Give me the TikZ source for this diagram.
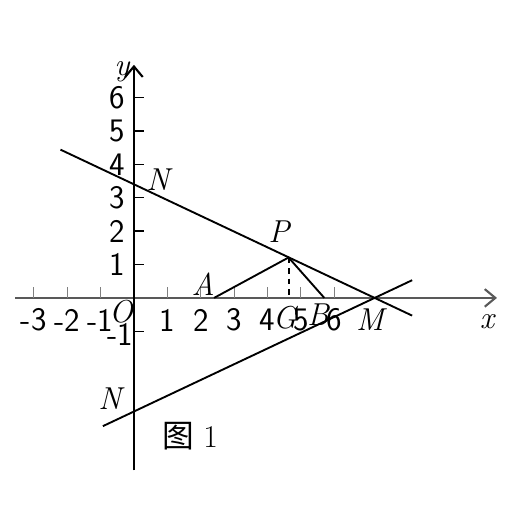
\documentclass[tikz,border=0pt]{standalone}
\usepackage{fontspec}
\newfontfamily\cjkfont{Noto Sans CJK SC}
\usepackage{tikz}
\usetikzlibrary{arrows.meta}
\tikzset{
  axisline/.style={line width=1.8pt, -{Straight Barb[length=9pt,width=15pt]}},
  tickmark/.style={line width=0.8pt, color=gray},
  numlbl/.style={font=\fontsize{28}{30}\selectfont\sffamily, inner sep=0pt},
  ptlbl/.style={font=\fontsize{27}{30}\selectfont\itshape, inner sep=0pt},
  seg/.style={line width=1.6pt},
}
\begin{document}
\begin{tikzpicture}
  \useasboundingbox (-4.01,-6.41) rectangle (11.32,8.92);

  % axes
  \coordinate (xs) at (-3.55,0);
  \coordinate (xe) at (10.87,0);
  \coordinate (ys) at (0,-5.16);
  \coordinate (ye) at (0,6.98);
  \draw[axisline, color=black!65] (xs) -- (xe);
  \draw[axisline] (ys) -- (ye);

  % ticks and numbers
  \foreach \i in {-3,-2,-1,1,2,3,4,5,6} {
    \draw[tickmark] (\i,0) -- (\i,0.32);
  }
  \foreach \i in {-3,-2,-1,1,2,3,4,5,6} {
    \node[numlbl] (xn\i) at (\i,-0.66) {\i};
  }
  \foreach \j in {1,...,6} {
    \draw[line width=1.2pt] (0,\j) -- (0.3,\j);
    \node[numlbl] (yn\j) at (-0.5,\j) {\j};
  }
  \draw[line width=1.2pt] (0,-1) -- (0.3,-1);
  \node[numlbl] (ynm) at (-0.42,-1.1) {-1};

  % points
  \coordinate (O) at (0,0);
  \coordinate (Nt) at (0,3.4);
  \coordinate (Nb) at (0,-3.4);
  \coordinate (M) at (7.2,0);
  \coordinate (P) at (4.63,1.21);
  \coordinate (G) at (4.63,0);
  \coordinate (A) at (2.4,0);
  \coordinate (B) at (5.7,0);
  \coordinate (t1) at (-2.2,4.44);
  \coordinate (t2) at (8.33,-0.53);
  \coordinate (b1) at (-0.93,-3.84);
  \coordinate (b2) at (8.33,0.53);

  % lines
  \draw[seg] (t1) -- (t2);
  \draw[seg] (b1) -- (b2);
  \draw[seg] (A) -- (P) -- (B);
  \draw[seg, dash pattern=on 5pt off 4pt] (P) -- (G);

  % labels
  \node[ptlbl] (ly) at (-0.36,6.77) {y};
  \node[ptlbl] (lx) at (10.57,-0.72) {x};
  \node[ptlbl] (lNt) at (0.72,3.53) {N};
  \node[ptlbl] (lNb) at (-0.72,-3.02) {N};
  \node[ptlbl] (lP) at (4.34,1.98) {P};
  \node[ptlbl] (lA) at (2.07,0.42) {A};
  \node[ptlbl] (lG) at (4.52,-0.6) {G};
  \node[ptlbl] (lB) at (5.51,-0.51) {B};
  \node[ptlbl] (lM) at (7.07,-0.66) {M};
  \node[ptlbl] (lO) at (-0.39,-0.42) {O};
  \node[font=\fontsize{27}{30}\selectfont, inner sep=0pt] (cap) at (1.68,-4.13) {{\cjkfont 图} 1};
\end{tikzpicture}
\end{document}
